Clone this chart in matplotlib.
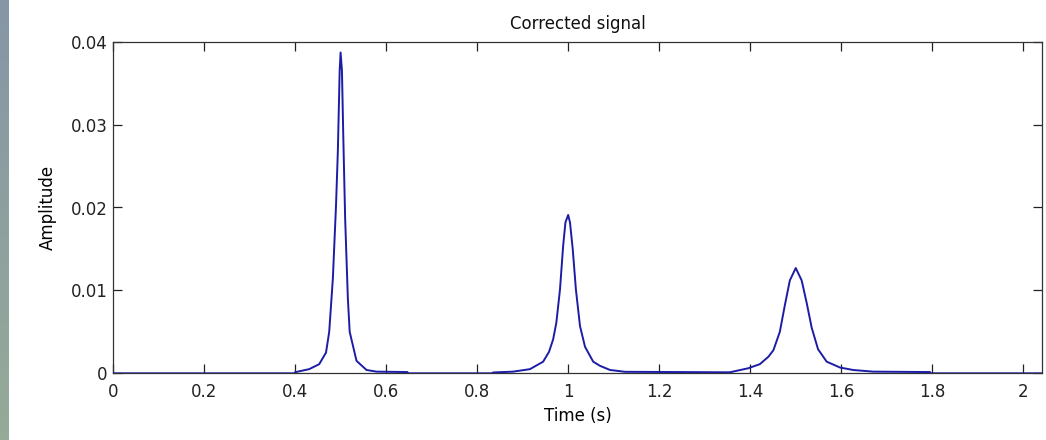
import numpy as np
import matplotlib
matplotlib.use("Agg")
import matplotlib.pyplot as plt

# ---- data ----
time_s = [
    0.000, 0.399,
    0.400, 0.431, 0.453, 0.468, 0.475, 0.483, 0.490, 0.494, 0.498, 0.500,
    0.503, 0.506, 0.510, 0.516, 0.520, 0.535, 0.557, 0.579, 0.647,
    0.648, 0.834,
    0.835, 0.879, 0.916, 0.945, 0.958, 0.967, 0.974, 0.982, 0.989, 0.994,
    1.000, 1.004, 1.010, 1.017, 1.026, 1.037, 1.055, 1.070, 1.092, 1.125,
    1.355, 1.395, 1.421, 1.440, 1.451, 1.465, 1.476, 1.487, 1.500, 1.513,
    1.524, 1.535, 1.549, 1.568, 1.597, 1.626, 1.670, 1.795,
    1.796, 2.041,
]
amplitude = [
    0.0, 0.0,
    0.00013, 0.0005, 0.0011, 0.0025, 0.0050, 0.0114, 0.0203, 0.0268, 0.0365, 0.0387,
    0.0365, 0.0284, 0.0187, 0.0090, 0.0050, 0.0015, 0.0004, 0.0002, 0.00015,
    0.0, 0.0,
    0.0001, 0.0002, 0.0005, 0.0014, 0.0026, 0.0041, 0.0061, 0.0101, 0.0154, 0.0182,
    0.0191, 0.0182, 0.0150, 0.0101, 0.0057, 0.0032, 0.0014, 0.0009, 0.0004, 0.00018,
    0.00012, 0.0006, 0.0011, 0.0020, 0.0028, 0.0050, 0.0082, 0.0112, 0.0127, 0.0112,
    0.0085, 0.0055, 0.0029, 0.0014, 0.0007, 0.0004, 0.0002, 0.00015,
    0.0, 0.0,
]
x_ticks = [0, 0.2, 0.4, 0.6, 0.8, 1.0, 1.2, 1.4, 1.6, 1.8, 2.0]
x_tick_labels = ["0", "0.2", "0.4", "0.6", "0.8", "1", "1.2", "1.4", "1.6", "1.8", "2"]
y_ticks = [0, 0.01, 0.02, 0.03, 0.04]
y_tick_labels = ["0", "0.01", "0.02", "0.03", "0.04"]

plt.rcParams['font.family'] = ['DejaVu Sans']

W, H = 1046, 440
fig = plt.figure(figsize=(W / 100, H / 100), dpi=100)
fig.patch.set_facecolor("white")

# left decorative gradient strip
strip = fig.add_axes([0, 0, 9 / W, 1])
grad = np.zeros((50, 1, 3))
top = np.array([0x86, 0x96, 0xa6]) / 255
bot = np.array([0x96, 0xaa, 0x98]) / 255
for i in range(50):
    f = i / 49
    grad[i, 0] = top * (1 - f) + bot * f
strip.imshow(grad, aspect="auto", extent=[0, 1, 0, 1])
strip.axis("off")

ax = fig.add_axes([113 / W, 1 - 373.3 / H, (1042 - 113) / W, (373.3 - 41.7) / H])
ax.plot(time_s, amplitude, color="#1c1ca6", lw=1.4, zorder=3,
        solid_joinstyle="round")
ax.set_xlim(0, 2.041)
ax.set_ylim(0, 0.04)
ax.set_xticks(x_ticks)
ax.set_xticklabels(x_tick_labels)
ax.set_yticks(y_ticks)
ax.set_yticklabels(y_tick_labels)
ax.tick_params(direction="in", length=6.5, width=0.9, top=True, right=True,
               labelsize=12, colors="#222222")
ax.tick_params(axis="y", pad=4)
ax.tick_params(axis="x", pad=7)
for s in ax.spines.values():
    s.set_color("#333333")
    s.set_linewidth(0.9)
ax.set_title("Corrected signal", fontsize=12, pad=9, color="#111111")
ax.set_xlabel("Time (s)", fontsize=12, labelpad=4)
ax.set_ylabel("Amplitude", fontsize=12, labelpad=10)

fig.savefig("out.png", dpi=100)
